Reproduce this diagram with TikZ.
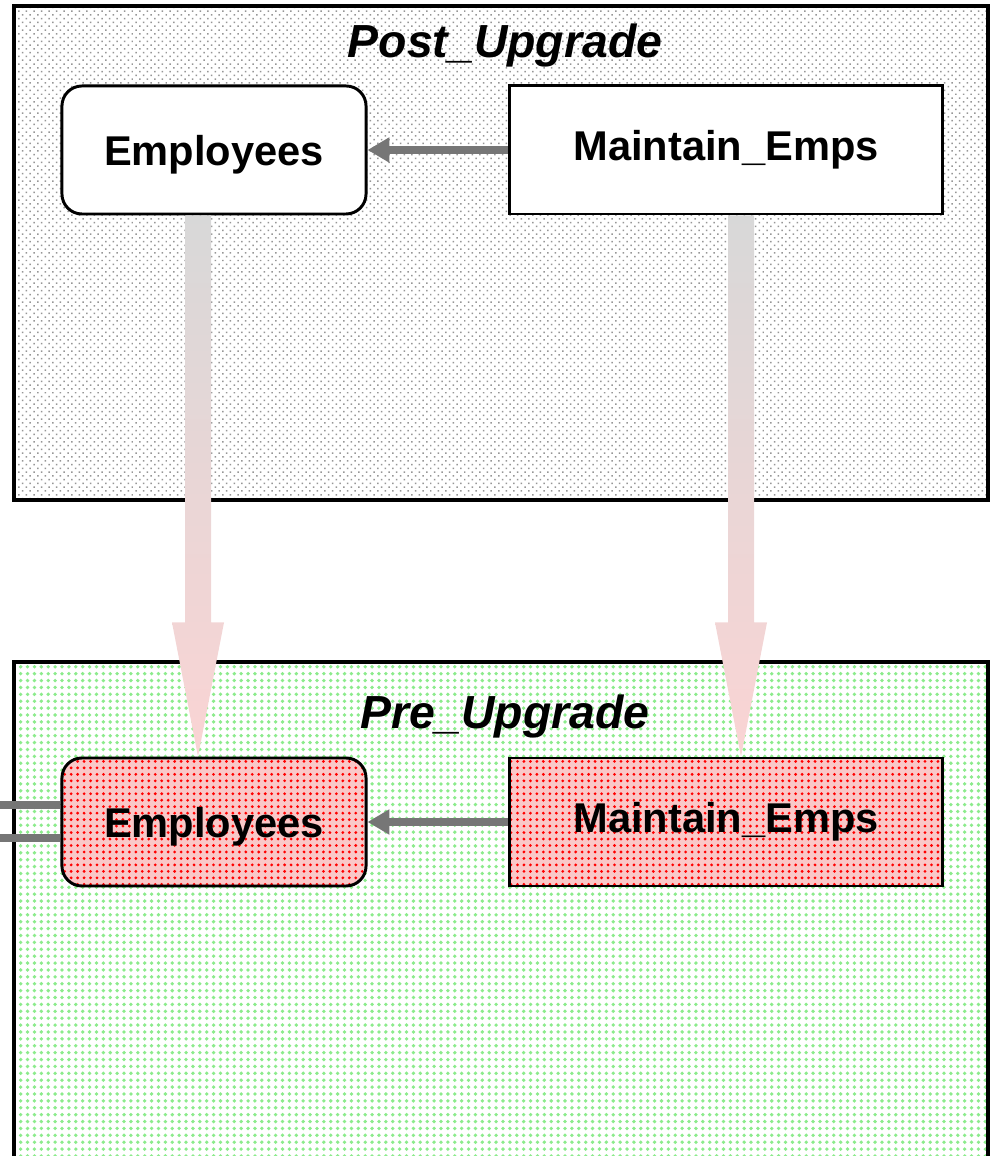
\documentclass[tikz,border=0pt]{standalone}
\usepackage{fontspec}
\setmainfont{Liberation Sans}
\usetikzlibrary{arrows.meta,patterns.meta,calc}
\definecolor{linkgray}{RGB}{118,118,118}
\definecolor{dotgray}{RGB}{150,150,150}
\definecolor{dotgreen}{RGB}{140,235,140}
\definecolor{pinkbg}{RGB}{250,200,200}
\definecolor{flowtop}{RGB}{216,216,216}
\definecolor{flowbot}{RGB}{250,212,212}
\tikzset{
  frame/.style={line width=2.8pt},
  postbg/.style={preaction={fill=white},pattern={Dots[distance=3.8pt,radius=0.75pt,angle=45]},pattern color=dotgray},
  prebg/.style={preaction={fill=white},pattern={Dots[distance=4.9pt,radius=1.35pt]},pattern color=dotgreen},
  title/.style={font=\fontsize{33}{38}\selectfont\bfseries\itshape},
  box/.style={draw,line width=2.1pt,inner sep=0pt,minimum height=3.2cm,font=\fontsize{29.6}{34}\selectfont\bfseries},
  tbl/.style={box,rounded corners=0.5cm,minimum width=7.6cm,text depth=0pt},
  prog/.style={box,minimum width=10.8cm},
  hot/.style={preaction={fill=pinkbg},pattern={Dots[distance=4.6pt,radius=1.1pt]},pattern color=red},
  link/.style={draw=linkgray,line width=5.7pt},
  calls/.style={link,-{Triangle[length=15.6pt,width=17pt]}}
}
% wide shaded arrow: from, to, x offset
\newcommand{\flowarrow}[3]{%
  \shade[top color=flowtop,bottom color=flowbot]
    ($(#1.south)+(#3-13,0)$) -- ($(#2.north)+(#3-13,134)$) -- ($(#2.north)+(#3-26,134)$)
    -- ($(#2.north)+(#3,0)$) -- ($(#2.north)+(#3+26,134)$) -- ($(#2.north)+(#3+13,134)$)
    -- ($(#1.south)+(#3+13,0)$) -- cycle;}
\begin{document}
\begin{tikzpicture}[x=0.025cm,y=0.025cm]
  \path[use as bounding box,clip] (0,0) rectangle (996,1156);
  % containers
  \draw[frame,postbg] (14,1150) rectangle (988,656);
  \draw[frame,prebg] (14,494) rectangle (988,-20);
  \node[title] (postT) at (505,1110) {Post\_Upgrade};
  \node[title] (preT) at (505,439) {Pre\_Upgrade};
  % post upgrade
  \node[tbl,fill=white] (empPost) at (214,1006) {Employees};
  \node[prog,fill=white] (maintPost) at (726,1006) {Maintain\_Emps};
  \draw[calls] (maintPost) -- (empPost);
  % pre upgrade
  \node[tbl,hot] (empPre) at (214,334) {Employees};
  \node[prog,hot] (maintPre) at (726,334) {Maintain\_Emps};
  \draw[calls] (maintPre) -- (empPre);
  \coordinate (inA) at (0,351);
  \coordinate (inB) at (0,318);
  \draw[link] (inA) -- (inA -| empPre.west);
  \draw[link] (inB) -- (inB -| empPre.west);
  % upgrade arrows
  \flowarrow{empPost}{empPre}{-16}
  \flowarrow{maintPost}{maintPre}{15}
\end{tikzpicture}
\end{document}
